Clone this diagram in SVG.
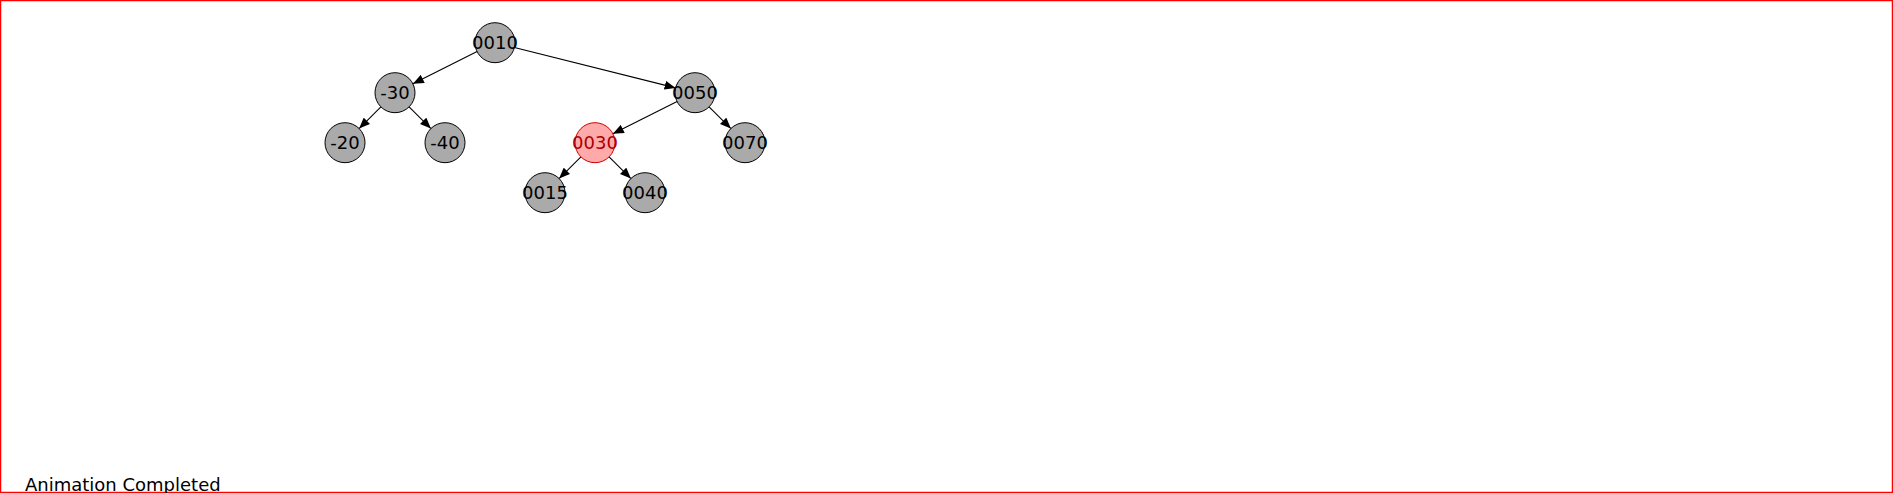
<svg xmlns="http://www.w3.org/2000/svg" width="1893" height="493" viewBox="0 0 1893 493">
<style>
.n circle{fill:#aaaaaa;stroke:#000;stroke-width:1}
.n text{font-family:"DejaVu Sans",sans-serif;font-size:18px;text-anchor:middle;fill:#000}
.hl circle{fill:#ffaaaa;stroke:#cc0000}
.hl text{fill:#aa0000}
.e line{stroke:#000;stroke-width:1.1;marker-end:url(#ah)}
</style>
<defs>
<marker id="ah" markerWidth="11" markerHeight="9" refX="11" refY="4.5" orient="auto" markerUnits="userSpaceOnUse">
<path d="M0,0 L11,4.5 L0,9 Z" fill="#000"/>
</marker>
</defs>
<rect x="0.5" y="0.5" width="1892" height="492" fill="#fff" stroke="#ff0000" stroke-width="1.5"/>
<g id="edges" class="e">
<line x1="477.1" y1="51.6" x2="412.9" y2="83.8"/>
<line x1="514.4" y1="47.5" x2="675.6" y2="87.9"/>
<line x1="380.9" y1="106.8" x2="359.1" y2="128.6"/>
<line x1="409.1" y1="106.8" x2="430.9" y2="128.6"/>
<line x1="677.1" y1="101.6" x2="612.9" y2="133.8"/>
<line x1="709.1" y1="106.8" x2="730.9" y2="128.6"/>
<line x1="580.9" y1="156.8" x2="559.1" y2="178.6"/>
<line x1="609.1" y1="156.8" x2="630.9" y2="178.6"/>
</g>
<g id="n0010" class="n"><circle cx="495" cy="42.7" r="20"/><text x="495" y="49">0010</text></g>
<g id="n-30" class="n"><circle cx="395" cy="92.7" r="20"/><text x="395" y="99">-30</text></g>
<g id="n0050" class="n"><circle cx="695" cy="92.7" r="20"/><text x="695" y="99">0050</text></g>
<g id="n-20" class="n"><circle cx="345" cy="142.7" r="20"/><text x="345" y="149">-20</text></g>
<g id="n-40" class="n"><circle cx="445" cy="142.7" r="20"/><text x="445" y="149">-40</text></g>
<g id="n0030" class="n hl"><circle cx="595" cy="142.7" r="20"/><text x="595" y="149">0030</text></g>
<g id="n0070" class="n"><circle cx="745" cy="142.7" r="20"/><text x="745" y="149">0070</text></g>
<g id="n0015" class="n"><circle cx="545" cy="192.7" r="20"/><text x="545" y="199">0015</text></g>
<g id="n0040" class="n"><circle cx="645" cy="192.7" r="20"/><text x="645" y="199">0040</text></g>
<text x="25" y="491" font-family="DejaVu Sans, sans-serif" font-size="18px" fill="#000">Animation Completed</text>
</svg>
